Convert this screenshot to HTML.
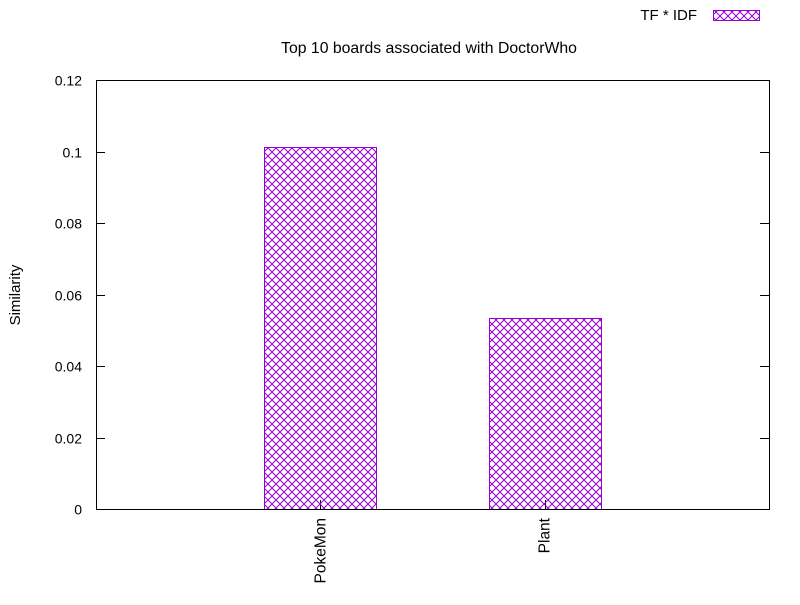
<!DOCTYPE html>
<html><head><meta charset="utf-8"><style>
body{margin:0;background:#fff;}
svg{font-family:"Liberation Sans",sans-serif;font-size:14px;}
</style></head><body>
<svg id="c" width="800" height="600" xmlns="http://www.w3.org/2000/svg">
<defs><pattern id="hatch" width="8" height="8" patternUnits="userSpaceOnUse">
<path d="M0,0 L8,8 M8,0 L0,8" stroke="#9400d3" stroke-width="1" fill="none"/>
</pattern></defs>
<text x="429" y="53" text-anchor="middle" style="font-size:15.8px">Top 10 boards associated with DoctorWho</text>
<text transform="translate(20,295) rotate(-90)" text-anchor="middle" style="font-size:15px">Similarity</text>
<g>
<text x="697" y="20" text-anchor="end" style="font-size:15px">TF * IDF</text>
<rect x="713.5" y="10.5" width="46" height="10" fill="url(#hatch)" stroke="#9400d3"/>
</g>
<g id="axes"></g>
<g id="bars"></g>
<rect x="96.5" y="80.5" width="673" height="429" fill="none" stroke="#000"/>
</svg>
<script>
const categories = ["PokeMon", "Plant"];
const values = [0.1013, 0.0534];
const yTicks = [0, 0.02, 0.04, 0.06, 0.08, 0.1, 0.12];
const yTickLabels = ["0", "0.02", "0.04", "0.06", "0.08", "0.1", "0.12"];
const L=96, R=769, T=80, B=509;
const xs = v => L + (v + 1) / 3 * (R - L);
const ys = v => B - v / 0.12 * (B - T);
const NS="http://www.w3.org/2000/svg";
const axes=document.getElementById('axes'), bars=document.getElementById('bars');
function mk(tag, attrs, parent){const e=document.createElementNS(NS,tag);for(const k in attrs)e.setAttribute(k,attrs[k]);parent.appendChild(e);return e;}
yTicks.forEach((t,i)=>{
  const y=Math.round(ys(t))+0.5;
  const l1=mk('line',{x1:L,x2:L+9,y1:y,y2:y,stroke:'#000'},axes);
  
  
  const l2=mk('line',{x1:R-9,x2:R,y1:y,y2:y,stroke:'#000'},axes);
  
  
  const tx=mk('text',{x:L-14,y:y+5,'text-anchor':'end'},axes);
  tx.textContent=yTickLabels[i];
  
  
});
categories.forEach((c,i)=>{
  const cx=xs(i), w=(R-L)/3*0.5;
  const x0=Math.round(cx-w/2)+0.5, x1=Math.round(cx+w/2)+0.5, y0=Math.round(ys(values[i]))+0.5;
  const r=mk('rect',{x:x0,y:y0,width:x1-x0,height:B-y0+0.5,fill:'url(#hatch)',stroke:'#9400d3'},bars);
  
  
  const tk=mk('line',{x1:Math.round(cx)+0.5,x2:Math.round(cx)+0.5,y1:B,y2:B-9,stroke:'#000'},axes);
  
  
  const tx=mk('text',{transform:`translate(${cx+5},${B+9}) rotate(-90)`,'text-anchor':'end',style:'font-size:15.5px'},axes);
  tx.textContent=c;
  
  
});
</script>
</body></html>
